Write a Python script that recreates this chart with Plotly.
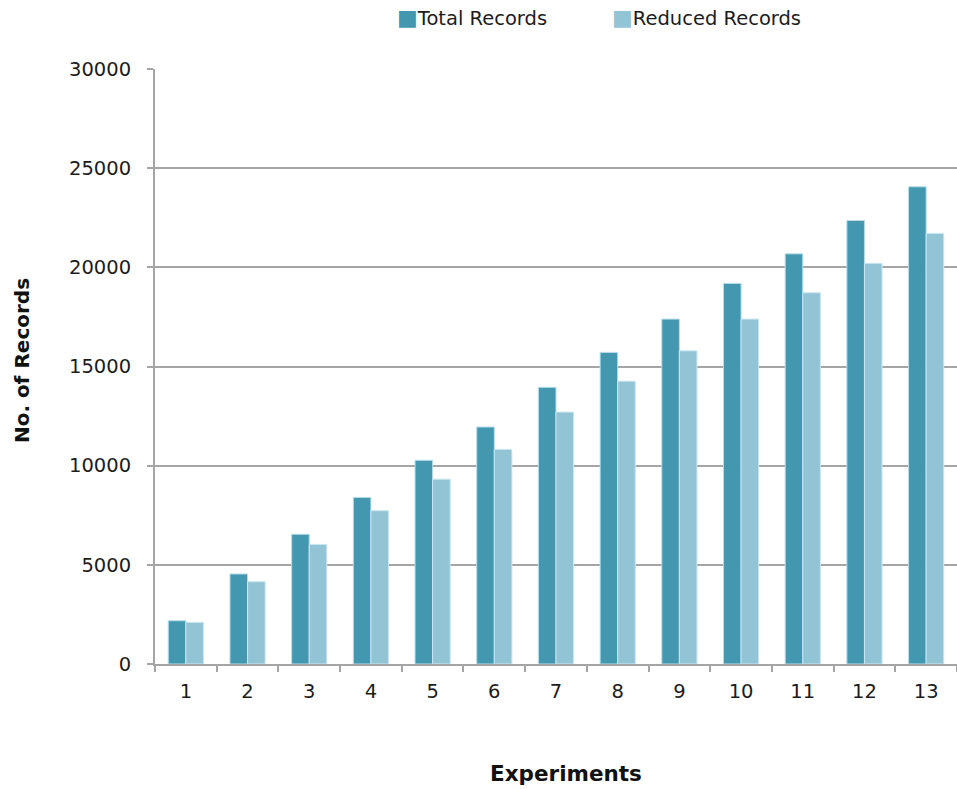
import plotly.graph_objects as go

# Record counts per experiment
experiments = ["1", "2", "3", "4", "5", "6", "7", "8", "9", "10", "11", "12", "13"]
total_records = [2180, 4540, 6540, 8400, 10270, 11950, 13950, 15710, 17390, 19190, 20680, 22360, 24060]
reduced_records = [2100, 4150, 6030, 7730, 9320, 10820, 12700, 14260, 15790, 17390, 18720, 20200, 21710]
y_ticks = [0, 5000, 10000, 15000, 20000, 25000, 30000]
y_tick_text = ["0", "5000", "10000", "15000", "20000", "25000", "30000"]

FONT = "DejaVu Sans"
TEXT = "#1c1c1c"
TOTAL_COLOR = "#4398B0"
REDUCED_COLOR = "#93C4D6"
GRID = "#A5A5A5"

W, H = 957, 789
L, R, T, B = 155, 0, 69, 125
PW, PH = W - L - R, H - T - B


def px_x(px):
    return (px - L) / PW


def px_y(py):
    return (H - B - py) / PH


fig = go.Figure()
fig.add_trace(go.Bar(
    name="Total Records", x=experiments, y=total_records,
    marker=dict(color=TOTAL_COLOR, line=dict(color="#B7DDEA", width=1)),
))
fig.add_trace(go.Bar(
    name="Reduced Records", x=experiments, y=reduced_records,
    marker=dict(color=REDUCED_COLOR, line=dict(color="#C9E6F0", width=1)),
))

annotations = [
    # series key across the top
    dict(text=f"<span style='color:{TOTAL_COLOR};font-size:22px'>■</span>Total Records",
         x=px_x(395), y=px_y(17), xref="paper", yref="paper",
         xanchor="left", yanchor="middle", showarrow=False,
         font=dict(family=FONT, size=19.5, color=TEXT)),
    dict(text=f"<span style='color:{REDUCED_COLOR};font-size:22px'>■</span>Reduced Records",
         x=px_x(610), y=px_y(17), xref="paper", yref="paper",
         xanchor="left", yanchor="middle", showarrow=False,
         font=dict(family=FONT, size=19.5, color=TEXT)),
    # axis titles
    dict(text="<b>Experiments</b>", x=px_x(566), y=px_y(773), xref="paper", yref="paper",
         xanchor="center", yanchor="middle", showarrow=False,
         font=dict(family=FONT, size=21.5, color="#111111")),
    dict(text="<b>No. of Records</b>", x=px_x(22), y=px_y(361), xref="paper", yref="paper",
         xanchor="center", yanchor="middle", showarrow=False, textangle=-90,
         font=dict(family=FONT, size=20, color="#111111")),
]

fig.update_layout(
    width=W, height=H,
    margin=dict(l=L, r=R, t=T, b=B),
    paper_bgcolor="white", plot_bgcolor="white",
    barmode="group", bargap=0.43, bargroupgap=0,
    font=dict(family=FONT, size=19.5, color=TEXT),
    showlegend=False,
    annotations=annotations,
    xaxis=dict(
        type="category", showgrid=False,
        showline=True, linecolor=GRID, linewidth=2,
        ticks="outside", ticklen=6, tickcolor=GRID, tickwidth=2,
        tickson="boundaries", ticklabelstandoff=9,
    ),
    yaxis=dict(
        range=[0, 30000], tickvals=y_ticks, ticktext=y_tick_text,
        showgrid=True, gridcolor=GRID, gridwidth=2,
        showline=True, linecolor=GRID, linewidth=2,
        ticks="outside", ticklen=6, tickcolor=GRID, tickwidth=2,
        ticklabelstandoff=12, zeroline=False,
    ),
)

fig.write_html("out.html")
